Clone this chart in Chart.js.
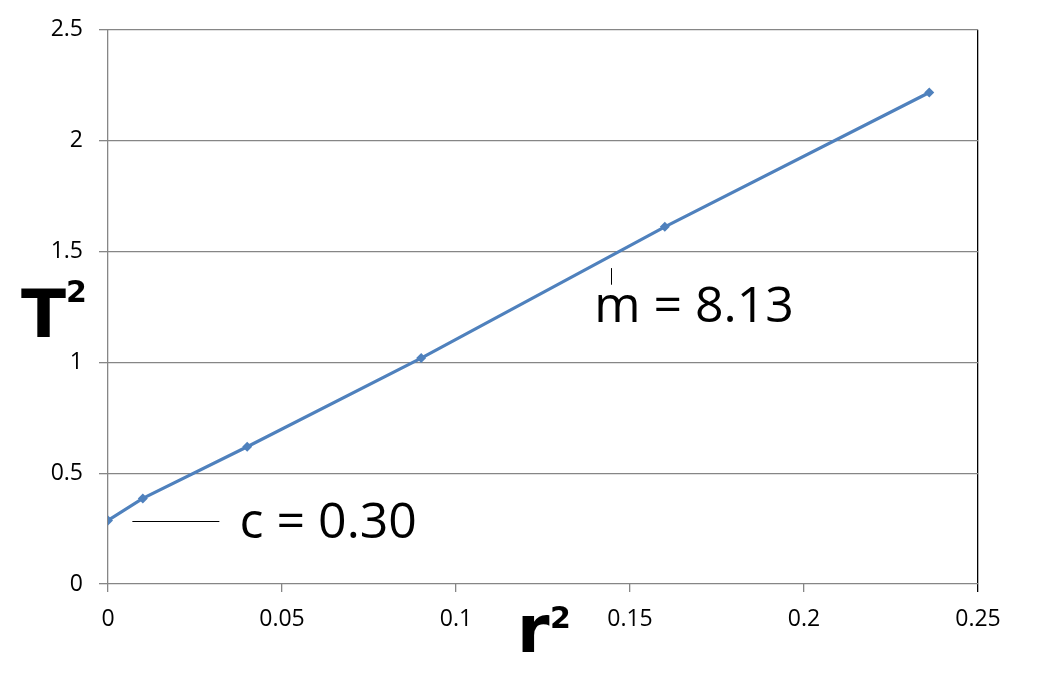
<!DOCTYPE html>
<html lang="en">
  <head>
    <meta charset="UTF-8" />
    <title>T squared against r squared</title>
    <style>
      html, body { margin: 0; padding: 0; background: #fff; }
      #wrap { width: 1042px; height: 685px; }
    </style>
  </head>
  <body>
    <div id="wrap"><canvas id="graph" width="1042" height="685"></canvas></div>

    <script src="https://cdn.jsdelivr.net/npm/chart.js"></script>
    <script>
      // values
      const rSquared = [0, 0.01, 0.04, 0.09, 0.16, 0.236];
      const tSquared = [0.287, 0.386, 0.619, 1.019, 1.611, 2.217];
      const xTicks = [0, 0.05, 0.1, 0.15, 0.2, 0.25];
      const yTicks = [0, 0.5, 1, 1.5, 2, 2.5];
      const interceptLabel = "c = 0.30";
      const slopeLabel = "m = 8.13";

      const gray = "#868686";
      const blue = "#4f81bd";
      const tickFont = { family: "'Open Sans', sans-serif", size: 23 };

      // axis titles and the two notes, drawn on top of the plot
      const notes = {
        id: "notes",
        afterDraw(chart) {
          const c = chart.ctx;
          const xs = chart.scales.x;
          const ys = chart.scales.y;
          c.save();
          c.fillStyle = "#000";
          c.textBaseline = "alphabetic";

          // T^2
          c.font = "bold 66px 'DejaVu Sans'";
          c.fillText("T", 21, 337);
          c.font = "bold 30px 'DejaVu Sans'";
          c.fillText("2", 66, 302);
          // r^2
          c.font = "bold 66px 'DejaVu Sans'";
          c.fillText("r", 517, 652);
          c.font = "bold 30px 'DejaVu Sans'";
          c.fillText("2", 550, 628);

          // leader lines
          c.strokeStyle = "#000";
          c.lineWidth = 1;
          c.beginPath();
          const cy = Math.round(ys.getPixelForValue(0.284)) + 0.5;
          c.moveTo(xs.getPixelForValue(0.007), cy);
          c.lineTo(xs.getPixelForValue(0.032), cy);
          const mx = Math.round(xs.getPixelForValue(0.1445)) + 0.5;
          c.moveTo(mx, ys.getPixelForValue(1.425));
          c.lineTo(mx, ys.getPixelForValue(1.35));
          c.stroke();

          c.font = "50px 'Open Sans'";
          c.fillText(interceptLabel, xs.getPixelForValue(0.0378), 538);
          c.fillText(slopeLabel, xs.getPixelForValue(0.1397), 322);
          c.restore();
        },
      };

      const ctx = document.getElementById("graph").getContext("2d");
      const graph = new Chart(ctx, {
        type: "scatter",
        data: {
          datasets: [
            {
              data: rSquared.map((r, i) => ({ x: r, y: tSquared[i] })),
              showLine: true,
              borderColor: blue,
              backgroundColor: blue,
              borderWidth: 3.2,
              pointStyle: "rectRot",
              pointRadius: 5,
              pointBorderWidth: 0,
            },
          ],
        },
        options: {
          responsive: false,
          animation: false,
          layout: { padding: { top: 25, right: 64, left: 0, bottom: 0 } },
          plugins: { legend: { display: false }, tooltip: { enabled: false } },
          scales: {
            x: {
              type: "linear",
              min: 0,
              max: 0.25,
              afterBuildTicks: (s) => { s.ticks = xTicks.map((v) => ({ value: v })); },
              afterFit: (s) => { s.height = 101; },
              border: { display: false },
              grid: {
                color: (g) => g.index === 0 ? gray : g.index === xTicks.length - 1 ? "#000" : "rgba(0,0,0,0)",
                tickColor: (g) => g.index === xTicks.length - 1 ? "#000" : gray,
                tickLength: 8,
                lineWidth: 1.3,
              },
              ticks: { color: "#000", font: tickFont, padding: 14, maxRotation: 0, callback: (v) => String(v) },
            },
            y: {
              min: 0,
              max: 2.5,
              afterBuildTicks: (s) => { s.ticks = yTicks.map((v) => ({ value: v })); },
              afterFit: (s) => { s.width = 108; },
              border: { display: false },
              grid: { color: gray, tickLength: 9, lineWidth: 1.3 },
              ticks: { color: "#000", font: tickFont, padding: 16, callback: (v) => String(v) },
            },
          },
        },
        plugins: [notes],
      });
    </script>
  </body>
</html>
